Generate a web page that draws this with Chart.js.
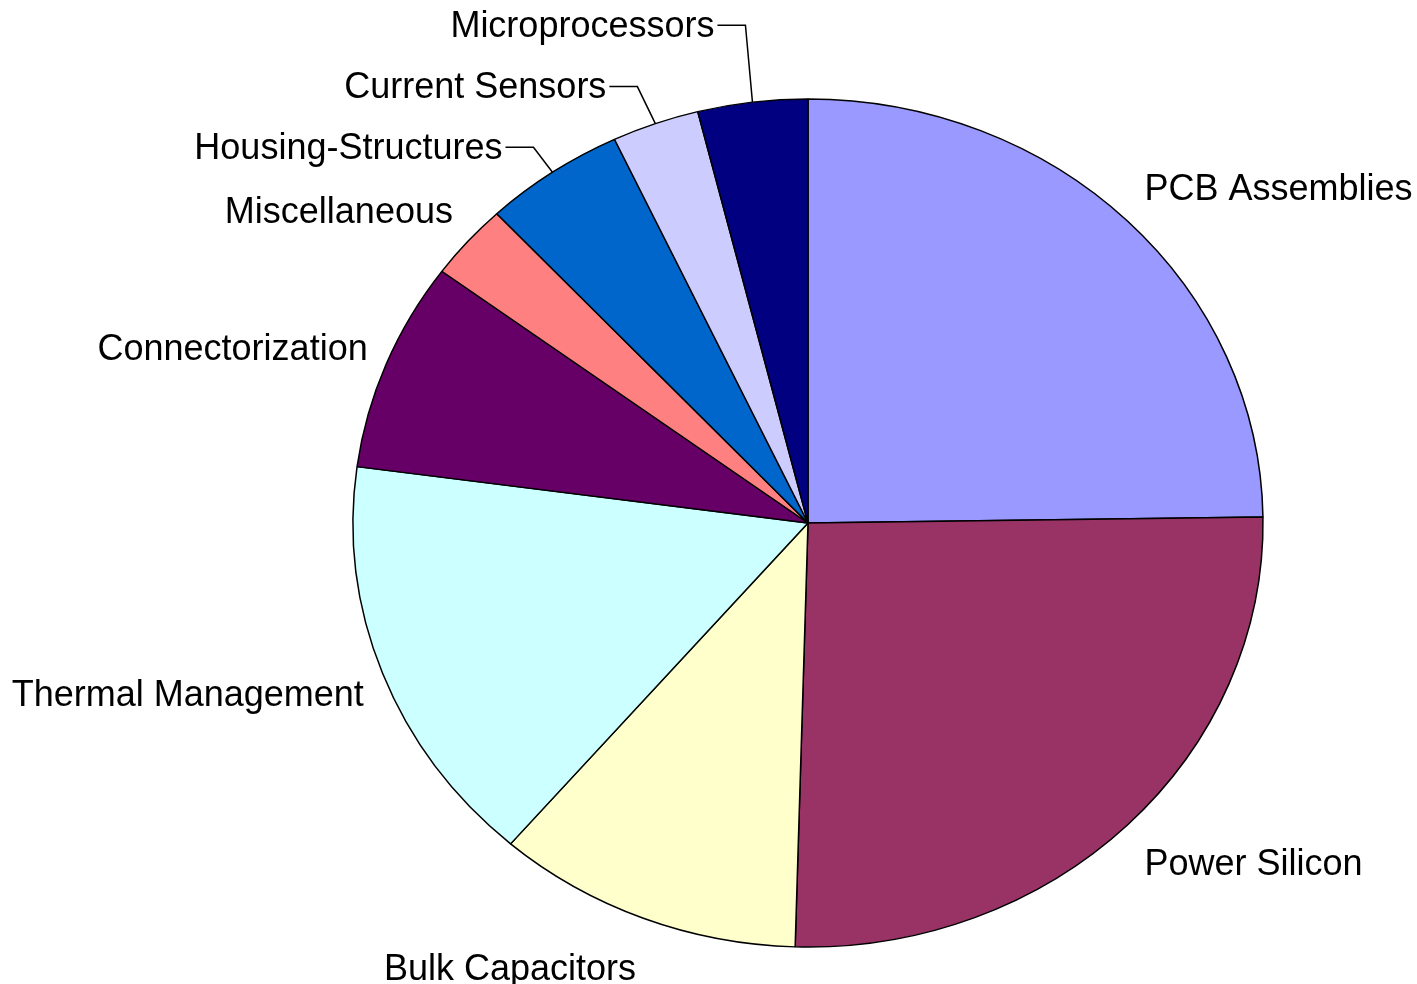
<!DOCTYPE html>
<html>
<head>
<meta charset="utf-8">
<script src="https://cdn.jsdelivr.net/npm/chart.js@4"></script>
<style>
  html, body { margin: 0; padding: 0; background: #fff; }
  #wrap { width: 1417px; height: 984px; position: relative; }
</style>
</head>
<body>
<div id="wrap"><canvas id="pie"></canvas></div>
<script>
// Data
const categories = ['PCB Assemblies', 'Power Silicon', 'Bulk Capacitors', 'Thermal Management',
  'Connectorization', 'Miscellaneous', 'Housing-Structures', 'Current Sensors', 'Microprocessors'];
const shares = [24.8, 25.7, 10.9, 15.8, 8.0, 2.9, 5.0, 3.1, 3.9];
const sliceColors = ['#9999FF', '#993366', '#FFFFCC', '#CCFFFF', '#660066', '#FF8080', '#0066CC', '#CCCCFF', '#000080'];

// Squash factor so the pie comes out as an ellipse like the original
const squash = 424 / 455;

// Labels that were dragged away and hang on a leader line: offset of the text's right end from the slice edge
const leaderOffsets = {
  'Housing-Structures': [-50, -25],
  'Current Sensors': [-49, -37],
  'Microprocessors': [-38, -77]
};

const FONT = '36px "Liberation Sans", Arial, sans-serif';

const ellipsePlugin = {
  id: 'ellipse',
  beforeDatasetsDraw(chart) {
    const arc = chart.getDatasetMeta(0).data[0];
    const ctx = chart.ctx;
    ctx.save();
    ctx.translate(arc.x, arc.y);
    ctx.scale(1, squash);
    ctx.translate(-arc.x, -arc.y);
  },
  afterDatasetsDraw(chart) {
    chart.ctx.restore();
  }
};

const labelPlugin = {
  id: 'sliceLabels',
  afterDraw(chart) {
    const ctx = chart.ctx;
    const meta = chart.getDatasetMeta(0);
    ctx.save();
    ctx.font = FONT;
    ctx.fillStyle = '#000';
    ctx.strokeStyle = '#000';
    ctx.lineWidth = 1.5;
    ctx.textBaseline = 'middle';
    meta.data.forEach((arc, i) => {
      const name = categories[i];
      const mid = (arc.startAngle + arc.endAngle) / 2;
      const cos = Math.cos(mid), sin = Math.sin(mid);
      const r = arc.outerRadius;
      const edgeX = arc.x + r * cos;
      const edgeY = arc.y + r * squash * sin;
      if (leaderOffsets[name]) {
        const [dx, dy] = leaderOffsets[name];
        const tx = edgeX + dx, ty = edgeY + dy;
        ctx.textAlign = 'right';
        ctx.fillText(name, tx, ty + 2);
        ctx.beginPath();
        ctx.moveTo(tx + 3, ty);
        ctx.lineTo(tx + 31, ty);
        ctx.lineTo(edgeX, edgeY);
        ctx.stroke();
        return;
      }
      const gap = 20;
      const px = arc.x + (r + gap) * cos + (cos > 0 ? 3 : 0);
      const py = arc.y + (r * squash + gap) * sin + sin * 30 + 5;
      ctx.textAlign = cos >= 0 ? 'left' : 'right';
      ctx.fillText(name, px, py);
    });
    ctx.restore();
  }
};

new Chart(document.getElementById('pie'), {
  type: 'pie',
  data: {
    labels: categories,
    datasets: [{
      data: shares,
      backgroundColor: sliceColors,
      borderColor: '#000',
      borderWidth: 1.5,
      radius: 455
    }]
  },
  options: {
    responsive: true,
    maintainAspectRatio: false,
    animation: false,
    layout: { padding: { left: 353, right: 154, top: 68, bottom: 6 } },
    plugins: {
      legend: { display: false },
      tooltip: { enabled: false }
    }
  },
  plugins: [ellipsePlugin, labelPlugin]
});
</script>
</body>
</html>
